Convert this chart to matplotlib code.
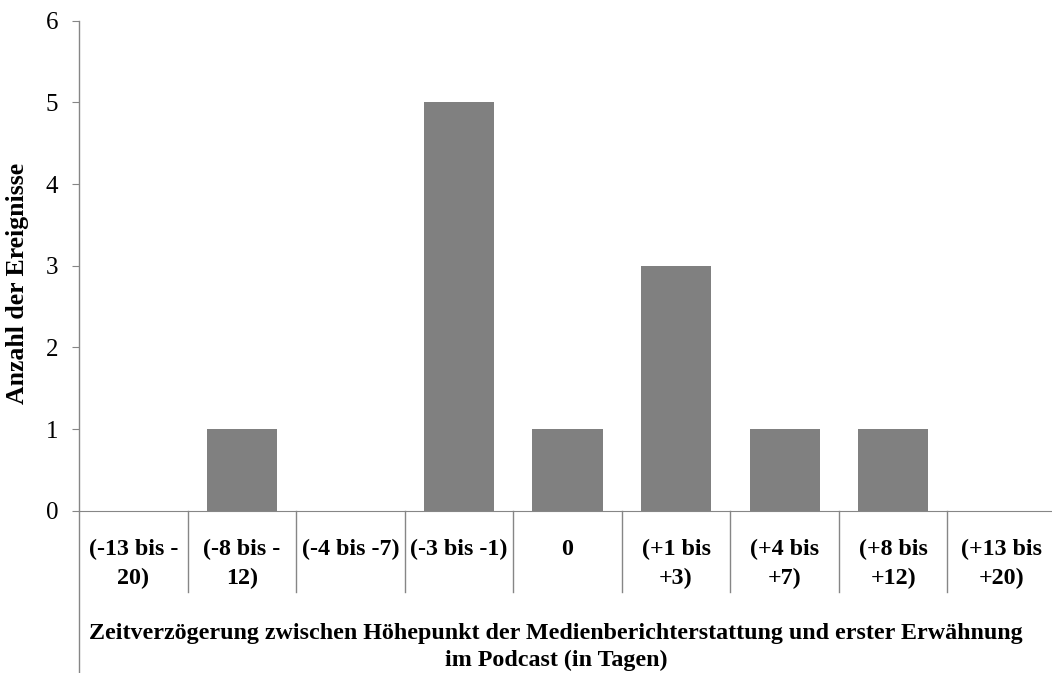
import numpy as np
import matplotlib
matplotlib.use("Agg")
import matplotlib.pyplot as plt
from matplotlib.lines import Line2D

# Daten
kategorien = ["(-13 bis -\n20)", "(-8 bis -\n12)", "(-4 bis -7)", "(-3 bis -1)", "0",
              "(+1 bis\n+3)", "(+4 bis\n+7)", "(+8 bis\n+12)", "(+13 bis\n+20)"]
anzahl = [0, 1, 0, 5, 1, 3, 1, 1, 0]
y_ticks = [0, 1, 2, 3, 4, 5, 6]

plt.rcParams["font.family"] = ["Liberation Serif", "DejaVu Serif"]

W, H = 1052, 673
fig = plt.figure(figsize=(W / 100, H / 100), dpi=100)
fig.patch.set_facecolor("white")

grau = "#868686"
ax = fig.add_axes([79 / W, 162.3 / H, 977 / W, 490 / H])

x = np.arange(len(kategorien))
ax.bar(x, anzahl, width=0.645, color="#808080", zorder=2)

ax.set_xlim(-0.5, len(kategorien) - 0.5)
ax.set_ylim(0, 6)
ax.set_yticks(y_ticks)
ax.set_yticklabels([str(t) for t in y_ticks], fontsize=18)
ax.tick_params(axis="y", direction="out", length=5, color=grau, pad=10)
ax.set_xticks([])

for s in ["top", "right"]:
    ax.spines[s].set_visible(False)
ax.spines["bottom"].set_color(grau)
ax.spines["left"].set_visible(False)

# linke Achse bis zum unteren Rand
trans = ax.get_xaxis_transform()
ax.add_line(Line2D([-0.5, -0.5], [1, -0.335], transform=trans, color=grau,
                   lw=1.0, clip_on=False))

# Trennlinien zwischen Kategorien
for b in np.arange(0.5, len(kategorien) - 0.5, 1):
    ax.add_line(Line2D([b, b], [0, -0.166], transform=trans, color=grau,
                       lw=1.0, clip_on=False))

# Kategorienbeschriftung
for xi, lab in zip(x, kategorien):
    ax.text(xi, -0.058, lab, transform=trans, ha="center", va="top",
            fontsize=17.3, fontweight="bold", linespacing=1.45)

# y-Achsentitel
fig.text(18 / W, 1 - 283 / H, "Anzahl der Ereignisse", rotation=90,
         ha="center", va="center", fontsize=18.5, fontweight="bold")

fig.text(556 / W, 1 - 647 / H,
         "Zeitverzögerung zwischen Höhepunkt der Medienberichterstattung und erster Erwähnung\nim Podcast (in Tagen)",
         ha="center", va="center", fontsize=17.3, fontweight="bold", linespacing=1.3)

fig.savefig("out.png", dpi=100)
